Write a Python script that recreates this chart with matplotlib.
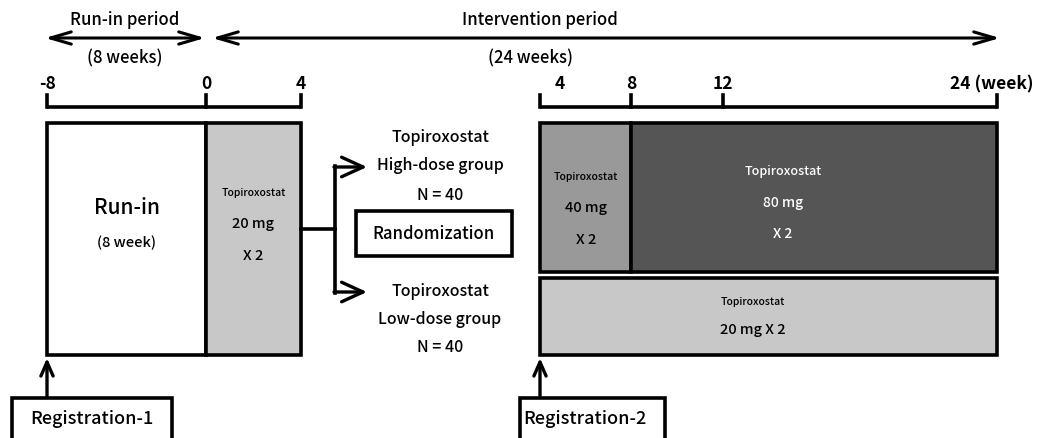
import matplotlib
matplotlib.use("Agg")
import matplotlib.pyplot as plt
from matplotlib.patches import Rectangle
import numpy as np

plt.rcParams['font.family'] = ['Noto Sans CJK JP', 'DejaVu Sans']

# ---- data ----
runin_ticks = [-8, 0, 4]
runin_tick_labels = ["-8", "0", "4"]
interv_ticks = [4, 8, 12, 24]
interv_tick_labels = ["4", "8", "12", "24 (week)"]
period_labels = ["Run-in period", "Intervention period"]
period_lengths = ["(8 weeks)", "(24 weeks)"]
drug = "Topiroxostat"
runin_dose = "20 mg"
high_doses = ["40 mg", "80 mg"]
low_dose = "20 mg X 2"
freq = "X 2"
high_n = 40
low_n = 40
group_names = ["High-dose group", "Low-dose group"]
registrations = ["Registration-1", "Registration-2"]

# ---- layout helpers ----
W, H = 1048, 438
fig = plt.figure(figsize=(W / 100, H / 100), dpi=100)
ax = fig.add_axes([0, 0, 1, 1])
ax.set_xlim(0, W)
ax.set_ylim(H, 0)
ax.axis('off')

def xl(w):  # left timeline week -> px
    return np.interp(w, [-8, 0, 4], [47, 206, 301])

def xr(w):  # right timeline week -> px
    return 540 + (w - 4) * (997 - 540) / 20.0

LW = 2.6
FC = dict(color='black', family=['Noto Sans CJK JP', 'DejaVu Sans'], fontweight='medium')

def arrow(x0, y0, x1, y1, lw=2.0, style='->', hl=0.6, hw=0.35, ms=20):
    ax.annotate('', xy=(x1, y1), xytext=(x0, y0),
                arrowprops=dict(arrowstyle=f'{style},head_length={hl},head_width={hw}',
                                lw=lw, color='black',
                                shrinkA=0, shrinkB=0, mutation_scale=ms))

# period arrows
arrow(205, 38, 45, 38, lw=2.2, style='<->', hl=0.75, hw=0.22)
arrow(212, 38, 1000, 38, lw=2.2, style='<->', hl=0.75, hw=0.22)
ax.text(125, 20, period_labels[0], ha='center', va='center', fontsize=12, **FC)
ax.text(125, 58, period_lengths[0], ha='center', va='center', fontsize=12, **FC)
ax.text(540, 20, period_labels[1], ha='center', va='center', fontsize=12, **FC)
ax.text(530, 58, period_lengths[1], ha='center', va='center', fontsize=12, **FC)

# timelines
ty, th = 107, 12
TF = dict(fontsize=12.5, fontweight='bold', family=['Noto Sans CJK JP', 'DejaVu Sans'])
ax.plot([xl(runin_ticks[0]), xl(runin_ticks[-1])], [ty, ty], color='black', lw=LW, solid_capstyle='butt')
for w, lab in zip(runin_ticks, runin_tick_labels):
    ax.plot([xl(w), xl(w)], [ty, ty - th], color='black', lw=LW)
    ax.text(xl(w), 84, lab, ha='center', va='center', **TF)
ax.plot([xr(interv_ticks[0]), xr(interv_ticks[-1])], [ty, ty], color='black', lw=LW, solid_capstyle='butt')
for i, (w, lab) in enumerate(zip(interv_ticks, interv_tick_labels)):
    ax.plot([xr(w), xr(w)], [ty, ty - th], color='black', lw=LW)
    if i == 0:
        ax.text(xr(w) + 20, 84, lab, ha='center', va='center', **TF)
    elif i == len(interv_ticks) - 1:
        ax.text(xr(w) - 47, 84, lab, ha='left', va='center', **TF)
    else:
        ax.text(xr(w), 84, lab, ha='center', va='center', **TF)

def box(x0, x1, y0, y1, fc):
    ax.add_patch(Rectangle((x0, y0), x1 - x0, y1 - y0, facecolor=fc,
                           edgecolor='black', lw=LW, zorder=2))

# left boxes
box(xl(-8), xl(0), 123, 355, 'white')
box(xl(0), xl(4), 123, 355, '#c8c8c8')
ax.text((xl(-8) + xl(0)) / 2, 208, "Run-in", ha='center', va='center', fontsize=15, zorder=3, **FC)
ax.text((xl(-8) + xl(0)) / 2, 243, "(8 week)", ha='center', va='center', fontsize=10.5, zorder=3, **FC)
cx = (xl(0) + xl(4)) / 2
ax.text(cx, 193, drug, ha='center', va='center', fontsize=7.5, zorder=3, **FC)
ax.text(cx, 224, runin_dose, ha='center', va='center', fontsize=10.5, zorder=3, **FC)
ax.text(cx, 256, freq, ha='center', va='center', fontsize=10.5, zorder=3, **FC)

# connector
ax.plot([xl(4), 335], [229, 229], color='black', lw=LW)
ax.plot([335, 335], [166, 293], color='black', lw=LW, solid_capstyle='projecting')
arrow(334, 167, 367, 167, lw=2.4, hl=0.7, hw=0.32, ms=22)
arrow(334, 292, 367, 292, lw=2.4, hl=0.7, hw=0.32, ms=22)

gx = 440
ax.text(gx, 137, drug, ha='center', va='center', fontsize=11.5, **FC)
ax.text(gx, 166, group_names[0], ha='center', va='center', fontsize=11.5, **FC)
ax.text(gx, 196, f"N = {high_n}", ha='center', va='center', fontsize=11.5, **FC)
ax.text(gx, 292, drug, ha='center', va='center', fontsize=11.5, **FC)
ax.text(gx, 320, group_names[1], ha='center', va='center', fontsize=11.5, **FC)
ax.text(gx, 348, f"N = {low_n}", ha='center', va='center', fontsize=11.5, **FC)
box(356, 512, 211, 256, 'white')
ax.text(434, 234, "Randomization", ha='center', va='center', fontsize=12, zorder=3, **FC)

# right boxes
box(xr(4), xr(8), 123, 272, '#999999')
box(xr(8), xr(24), 123, 272, '#555555')
box(xr(4), xr(24), 278, 355, '#c8c8c8')
cx = (xr(4) + xr(8)) / 2
ax.text(cx, 177, drug, ha='center', va='center', fontsize=7.5, zorder=3, **FC)
ax.text(cx, 208, high_doses[0], ha='center', va='center', fontsize=10.5, zorder=3, **FC)
ax.text(cx, 240, freq, ha='center', va='center', fontsize=10.5, zorder=3, **FC)
cx = 783
wc = dict(FC); wc['color'] = 'white'
ax.text(cx, 172, drug, ha='center', va='center', fontsize=9, zorder=3, **wc)
ax.text(cx, 203, high_doses[1], ha='center', va='center', fontsize=10, zorder=3, **wc)
ax.text(cx, 234, freq, ha='center', va='center', fontsize=10, zorder=3, **wc)
ax.text(753, 302, drug, ha='center', va='center', fontsize=7.5, zorder=3, **FC)
ax.text(753, 330, low_dose, ha='center', va='center', fontsize=10.5, zorder=3, **FC)

# registrations
arrow(xl(-8), 396, xl(-8), 358, lw=2.4, hl=0.5, hw=0.22, ms=20)
box(12, 172, 398, 450, 'white')
ax.text(92, 419, registrations[0], ha='center', va='center', fontsize=13, zorder=3, **FC)
arrow(xr(4), 396, xr(4), 358, lw=2.4, hl=0.5, hw=0.22, ms=20)
box(520, 665, 398, 450, 'white')
ax.text(585, 419, registrations[1], ha='center', va='center', fontsize=13, zorder=3, **FC)

fig.savefig("out.png", dpi=100)
